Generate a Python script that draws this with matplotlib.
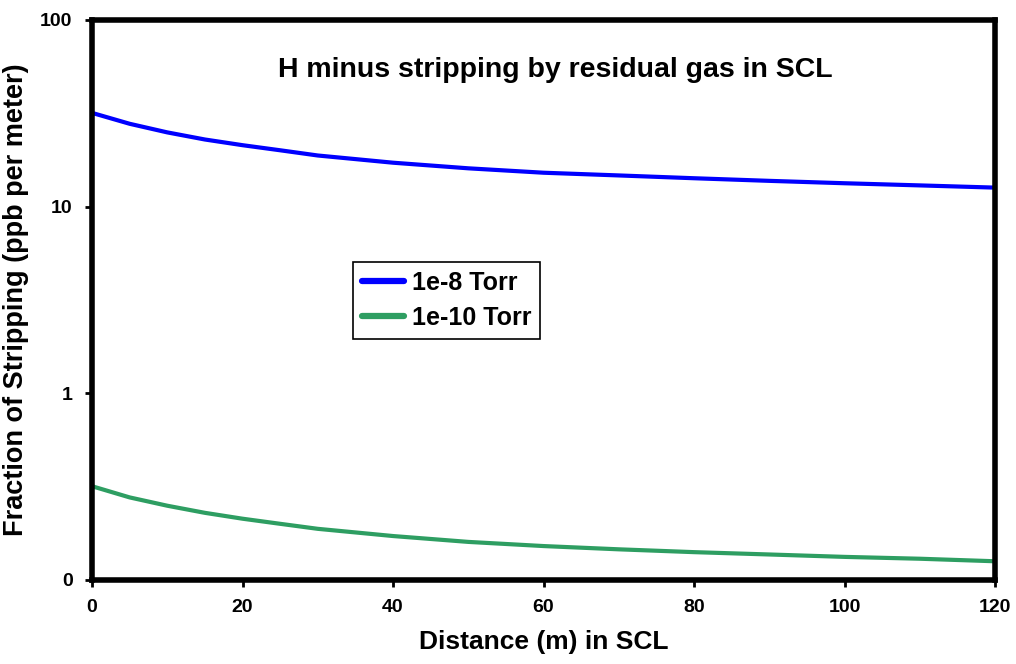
import matplotlib
matplotlib.use("Agg")
import matplotlib.pyplot as plt
from matplotlib.ticker import FixedLocator, FixedFormatter, NullLocator

plt.rcParams['font.family'] = ['Liberation Sans', 'DejaVu Sans']

distance_m = [0, 5, 10, 15, 20, 25, 30, 40, 50, 60, 70, 80, 90, 100, 110, 120]
strip_1e8 = [31.8, 27.8, 25.0, 22.9, 21.35, 20.05, 18.8, 17.2, 16.05, 15.2, 14.7, 14.2,
             13.75, 13.35, 13.0, 12.65]
strip_1e10 = [0.318, 0.277, 0.25, 0.229, 0.213, 0.2, 0.188, 0.172, 0.16, 0.152, 0.146, 0.141,
              0.137, 0.133, 0.13, 0.126]
series_labels = ["1e-8 Torr", "1e-10 Torr"]
ytick_vals = [0.1, 1, 10, 100]
ytick_labels = ["0", "1", "10", "100"]
xtick_vals = [0, 20, 40, 60, 80, 100, 120]

fig = plt.figure(figsize=(10.16, 6.64), dpi=100)
ax = fig.add_axes([92/1016, 1-580/664, (995-92)/1016, (580-20)/664])

ax.plot(distance_m, strip_1e8, color='#0000ff', lw=3.0, label=series_labels[0])
ax.plot(distance_m, strip_1e10, color='#2e9e62', lw=3.0, label=series_labels[1])

ax.set_yscale('log')
ax.set_xlim(0, 120)
ax.set_ylim(0.1, 100)
ax.yaxis.set_major_locator(FixedLocator(ytick_vals))
ax.yaxis.set_major_formatter(FixedFormatter(ytick_labels))
ax.yaxis.set_minor_locator(NullLocator())
ax.set_xticks(xtick_vals)

for s in ax.spines.values():
    s.set_linewidth(4)
ax.tick_params(axis='both', which='major', direction='out', length=5, width=2,
               labelsize=14, pad=9)
for lab in ax.get_xticklabels() + ax.get_yticklabels():
    lab.set_fontweight('bold')

ax.set_xlabel("Distance (m) in SCL", fontsize=19, fontweight='bold', labelpad=10)
ax.set_ylabel("Fraction of Stripping (ppb per meter)", fontsize=19.5, fontweight='bold', labelpad=8)

ax.text(0.513, 0.911, "H minus stripping by residual gas in SCL", transform=ax.transAxes,
        ha='center', va='center', fontsize=20.5, fontweight='bold')

leg = ax.legend(loc='upper left', bbox_to_anchor=((353-92)/903, 1-(262-20)/560),
                frameon=True, fancybox=False, framealpha=1, edgecolor='black',
                prop={'size': 18, 'weight': 'bold'}, handlelength=1.7, handletextpad=0.3,
                borderpad=0.35, labelspacing=0.45, borderaxespad=0)
leg.get_frame().set_linewidth(1.2)
for h in leg.get_lines():
    h.set_linewidth(4.5)
    h.set_solid_capstyle('round')

fig.savefig("out.png", dpi=100)
